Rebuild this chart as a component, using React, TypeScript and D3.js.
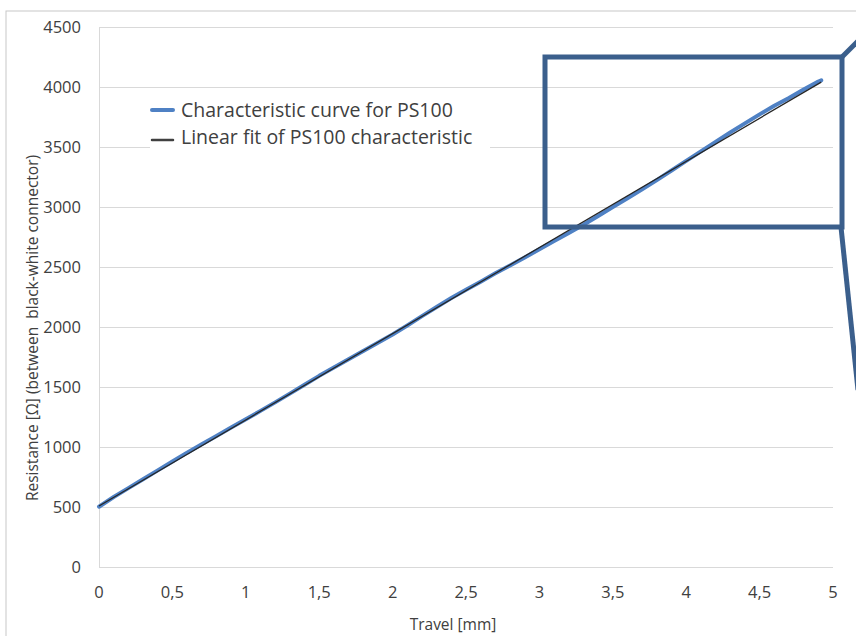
import React, { useEffect, useRef } from 'react';
import * as d3 from 'd3';

// measured characteristic (travel in mm, resistance in ohm)
const travel = [
  0, 0.1, 0.2, 0.3, 0.4, 0.5, 0.6, 0.7, 0.8, 0.9, 1.0, 1.1, 1.2, 1.3, 1.4, 1.5, 1.6, 1.7, 1.8, 1.9,
  2.0, 2.1, 2.2, 2.3, 2.4, 2.5, 2.6, 2.7, 2.8, 2.9, 3.0, 3.1, 3.2, 3.3, 3.4, 3.5, 3.6, 3.7, 3.8, 3.9,
  4.0, 4.1, 4.2, 4.3, 4.4, 4.5, 4.6, 4.7, 4.8, 4.9, 4.92,
];
const resistance = [
  502, 583, 657, 731, 805, 879, 953, 1023, 1092, 1162, 1231, 1301, 1372, 1445, 1519, 1593, 1662, 1731, 1800, 1868,
  1938, 2013, 2091, 2167, 2241, 2311, 2378, 2447, 2513, 2580, 2647, 2716, 2784, 2852, 2925, 2999, 3073, 3147, 3224, 3304,
  3385, 3464, 3542, 3622, 3697, 3772, 3843, 3908, 3979, 4046, 4056,
];

// linear fit endpoints
const fitTravel = [0, 4.92];
const fitResistance = [508, 4041];

const xTicks = [0, 0.5, 1, 1.5, 2, 2.5, 3, 3.5, 4, 4.5, 5];
const yTicks = [0, 500, 1000, 1500, 2000, 2500, 3000, 3500, 4000, 4500];

const legendLabels = ['Characteristic curve for PS100', 'Linear fit of PS100 characteristic'];

const FONT = '"Open Sans", sans-serif';

const App: React.FC = () => {
  const svgRef = useRef<SVGSVGElement | null>(null);

  useEffect(() => {
    const svg = d3.select(svgRef.current);
    svg.selectAll('*').remove();

    const W = 856;
    const H = 636;
    const left = 99;
    const right = 833;
    const top = 27;
    const bottom = 567;

    const x = d3.scaleLinear().domain([0, 5]).range([left, right]);
    const y = d3.scaleLinear().domain([0, 4500]).range([bottom, top]);

    svg.append('rect').attr('width', W).attr('height', H).attr('fill', '#fff');

    // chart frame
    svg
      .append('rect')
      .attr('x', 6)
      .attr('y', 11)
      .attr('width', W + 20)
      .attr('height', H + 20)
      .attr('fill', 'none')
      .attr('stroke', '#c8c8c8')
      .attr('stroke-width', 1);

    // gridlines
    svg
      .append('g')
      .selectAll('line')
      .data(yTicks.filter(d => d > 0))
      .join('line')
      .attr('x1', left)
      .attr('x2', right)
      .attr('y1', d => Math.round(y(d)) + 0.5)
      .attr('y2', d => Math.round(y(d)) + 0.5)
      .attr('stroke', '#d9d9d9')
      .attr('stroke-width', 1);

    // axis lines
    svg
      .append('line')
      .attr('x1', left + 0.5)
      .attr('x2', left + 0.5)
      .attr('y1', top)
      .attr('y2', bottom)
      .attr('stroke', '#d9d9d9');
    svg
      .append('line')
      .attr('x1', left)
      .attr('x2', right)
      .attr('y1', bottom + 0.5)
      .attr('y2', bottom + 0.5)
      .attr('stroke', '#d9d9d9');

    // tick labels
    svg
      .append('g')
      .selectAll('text')
      .data(yTicks)
      .join('text')
      .attr('x', 81)
      .attr('y', d => y(d))
      .attr('dy', '0.35em')
      .attr('text-anchor', 'end')
      .attr('font-family', FONT)
      .attr('font-size', 16.5)
      .attr('fill', '#404040')
      .text(d => String(d));

    svg
      .append('g')
      .selectAll('text')
      .data(xTicks)
      .join('text')
      .attr('x', d => x(d))
      .attr('y', 592)
      .attr('dy', '0.35em')
      .attr('text-anchor', 'middle')
      .attr('font-family', FONT)
      .attr('font-size', 16.5)
      .attr('fill', '#404040')
      .text(d => String(d).replace('.', ','));

    // axis titles
    svg
      .append('text')
      .attr('x', 453)
      .attr('y', 625)
      .attr('dy', '0.35em')
      .attr('text-anchor', 'middle')
      .attr('font-family', FONT)
      .attr('font-size', 15.5)
      .attr('fill', '#404040')
      .text('Travel [mm]');

    svg
      .append('text')
      .attr('transform', 'translate(33,328) rotate(-90)')
      .attr('dy', '0.35em')
      .attr('text-anchor', 'middle')
      .attr('font-family', FONT)
      .attr('font-size', 15.5)
      .attr('fill', '#404040')
      .style('white-space', 'pre')
      .text('Resistance [Ω] (between  black-white connector)');

    // series
    const pts = travel.map((t, i) => [t, resistance[i]] as [number, number]);
    const fitPts = fitTravel.map((t, i) => [t, fitResistance[i]] as [number, number]);
    const line = d3
      .line<[number, number]>()
      .x(d => x(d[0]))
      .y(d => y(d[1]));

    svg
      .append('path')
      .datum(pts)
      .attr('fill', 'none')
      .attr('stroke', '#4f81c4')
      .attr('stroke-width', 4)
      .attr('stroke-linejoin', 'round')
      .attr('stroke-linecap', 'round')
      .attr('d', line);

    svg
      .append('path')
      .datum(fitPts)
      .attr('fill', 'none')
      .attr('stroke', '#262626')
      .attr('stroke-width', 1.3)
      .attr('d', line);

    // legend
    const legend = svg.append('g');
    legend
      .append('rect')
      .attr('x', 150)
      .attr('y', 92)
      .attr('width', 340)
      .attr('height', 62)
      .attr('fill', '#fff');
    const legendColors = ['#4f81c4', '#404040'];
    const legendWidths = [4, 2.5];
    const rowY = [110, 137];
    legendLabels.forEach((label, i) => {
      legend
        .append('line')
        .attr('x1', 152)
        .attr('x2', 173)
        .attr('y1', rowY[i] + (i === 1 ? 3 : 0))
        .attr('y2', rowY[i] + (i === 1 ? 3 : 0))
        .attr('stroke', legendColors[i])
        .attr('stroke-width', legendWidths[i])
        .attr('stroke-linecap', 'round');
      legend
        .append('text')
        .attr('x', 181)
        .attr('y', rowY[i])
        .attr('dy', '0.35em')
        .attr('font-family', FONT)
        .attr('font-size', 19.5)
        .attr('fill', '#404040')
        .text(label);
    });

    // zoom callout
    const callout = svg.append('g').attr('stroke', '#3b5f8c').attr('stroke-width', 5).attr('fill', 'none');
    callout.append('rect').attr('x', 545).attr('y', 57).attr('width', 297).attr('height', 170);
    callout.append('line').attr('x1', 842).attr('y1', 57).attr('x2', 862).attr('y2', 37);
    callout.append('line').attr('x1', 841).attr('y1', 227).attr('x2', 858).attr('y2', 390);
  }, []);

  return (
    <svg
      ref={svgRef}
      width={856}
      height={636}
      style={{ position: 'absolute', left: 0, top: 0, display: 'block' }}
    />
  );
};

export default App;
